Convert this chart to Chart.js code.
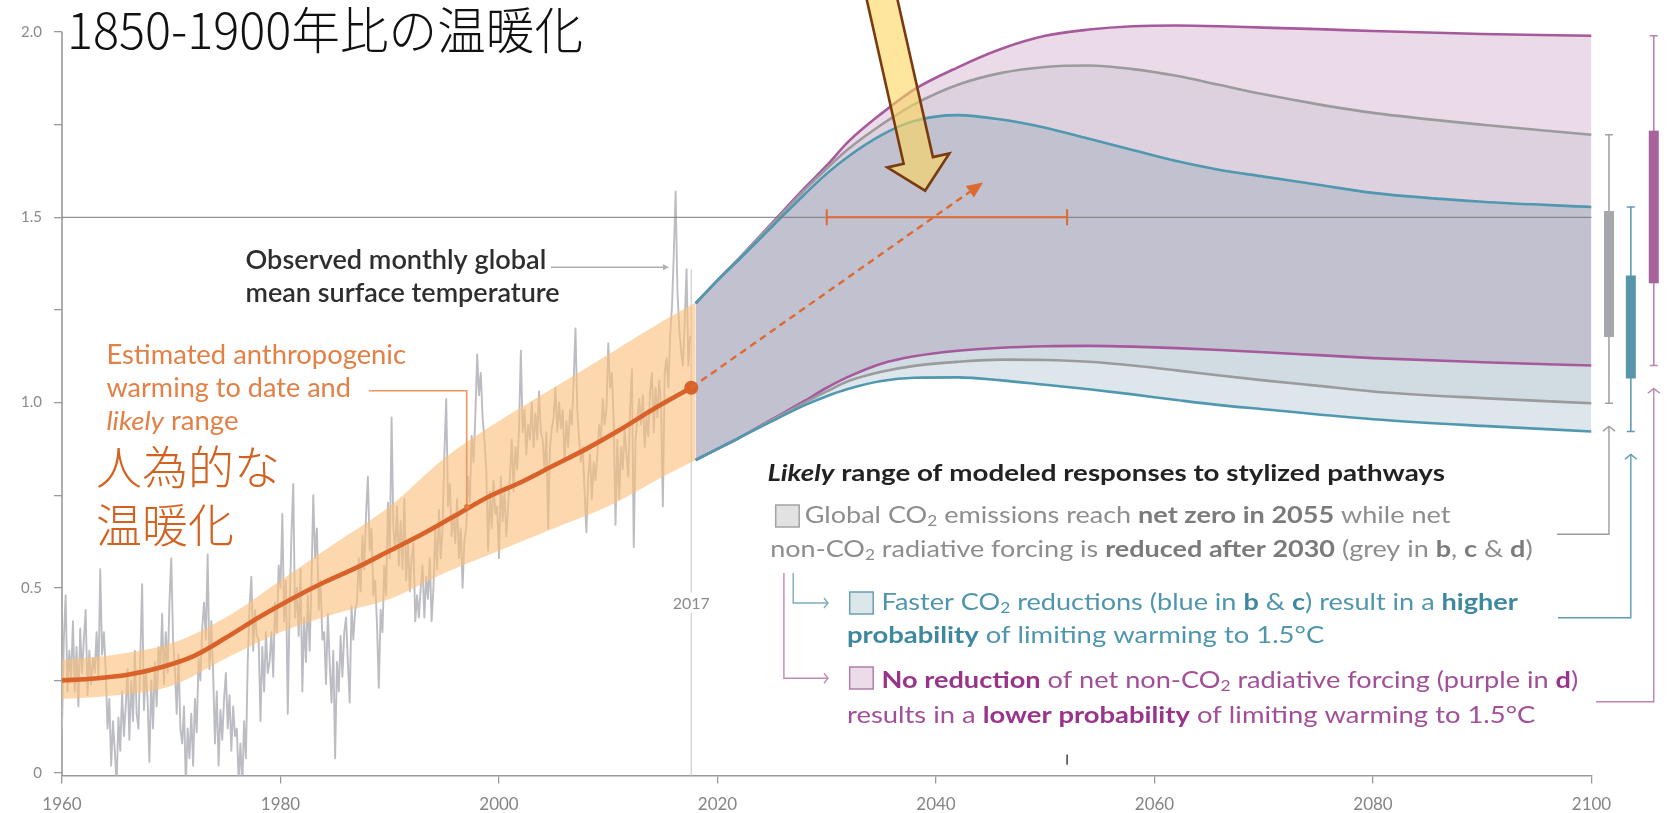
<!DOCTYPE html>
<html>
<head>
<meta charset="utf-8">
<script src="https://cdn.jsdelivr.net/npm/chart.js@4.4.1/dist/chart.umd.min.js"></script>
<style>
  html, body { margin: 0; padding: 0; background: #ffffff; }
  #wrap { width: 1667px; height: 813px; position: relative; }
  canvas { display: block; }
</style>
</head>
<body>
<div id="wrap"><canvas id="chart" width="1667" height="813"></canvas></div>
<script>
// ---------------------------------------------------------------------------
// Global warming relative to 1850-1900 (°C): observations, human-induced
// warming and likely ranges of modelled responses to stylized pathways.
// ---------------------------------------------------------------------------

// Observed global mean surface temperature, six samples per year from 1960
const observedStart = 1960;
const observedPerYear = 6;
const observed = [
  0.12, 0.36, 0.48, 0.22, 0.33, 0.25,   0.41, 0.22, 0.34, 0.18, 0.39, 0.27,   // 1960-61
  0.36, 0.44, 0.21, 0.33, 0.24, 0.31,   0.27, 0.38, 0.25, 0.55, 0.32, 0.38,   // 1962-63
  0.28, 0.12, 0.20, 0.02, 0.14, 0.06,  -0.03, 0.15, 0.06, 0.22, 0.10, 0.18,   // 1964-65
  0.28, 0.09, 0.25, 0.14, 0.33, 0.16,   0.12, 0.31, 0.51, 0.17, 0.28, 0.20,   // 1966-67
  0.03, 0.25, 0.12, 0.30, 0.18, 0.34,   0.28, 0.43, 0.24, 0.38, 0.27, 0.46,   // 1968-69
  0.58, 0.36, 0.28, 0.16, 0.32, 0.12,   0.08, 0.18, -0.03, 0.12, 0.04, 0.16,  // 1970-71
  0.02, 0.20, 0.11, 0.31, 0.25, 0.39,   0.46, 0.36, 0.59, 0.28, 0.41, 0.27,   // 1972-73
  0.08, 0.22, 0.02, 0.17, 0.09, 0.20,   0.27, 0.12, 0.21, 0.06, 0.18, 0.10,   // 1974-75
  0.12, -0.02, 0.08, -0.04, 0.14, 0.04, 0.30, 0.45, 0.53, 0.33, 0.44, 0.37,   // 1976-77
  0.36, 0.14, 0.34, 0.22, 0.38, 0.27,   0.30, 0.38, 0.26, 0.46, 0.38, 0.56,   // 1978-79
  0.50, 0.70, 0.41, 0.52, 0.16, 0.45,   0.64, 0.78, 0.42, 0.50, 0.37, 0.55,   // 1980-81
  0.22, 0.42, 0.30, 0.48, 0.33, 0.52,   0.75, 0.58, 0.66, 0.44, 0.52, 0.36,   // 1982-83
  0.38, 0.24, 0.43, 0.30, 0.19, 0.33,   0.04, 0.30, 0.22, 0.37, 0.26, 0.38,   // 1984-85
  0.42, 0.30, 0.19, 0.45, 0.36, 0.44,   0.46, 0.58, 0.49, 0.64, 0.55, 0.70,   // 1986-87
  0.80, 0.60, 0.66, 0.48, 0.52, 0.40,   0.23, 0.44, 0.38, 0.56, 0.48, 0.73,   // 1988-89
  0.58, 0.96, 0.66, 0.60, 0.72, 0.56,   0.68, 0.55, 0.74, 0.52, 0.62, 0.49,   // 1990-91
  0.58, 0.62, 0.41, 0.48, 0.42, 0.50,   0.56, 0.42, 0.53, 0.47, 0.58, 0.41,   // 1992-93
  0.50, 0.66, 0.55, 0.71, 0.58, 0.66,   0.86, 1.01, 0.72, 0.78, 0.64, 0.70,   // 1994-95
  0.62, 0.74, 0.58, 0.66, 0.50, 0.63,   0.66, 0.80, 0.73, 0.91, 0.84, 0.96,   // 1996-97
  1.13, 1.02, 1.08, 0.96, 0.90, 0.82,   0.60, 0.76, 0.66, 0.79, 0.70, 0.72,   // 1998-99
  0.58, 0.80, 0.68, 0.76, 0.64, 0.72,   0.80, 0.90, 0.76, 0.88, 0.82, 0.93,   // 2000-01
  1.14, 0.92, 0.98, 0.86, 0.94, 0.90,   1.00, 0.88, 0.97, 0.90, 1.03, 0.92,   // 2002-03
  0.90, 0.82, 0.92, 0.66, 0.88, 0.93,   0.96, 1.04, 0.92, 1.00, 0.93, 0.98,   // 2004-05
  0.84, 0.95, 0.88, 0.98, 0.94, 1.06,   1.20, 0.98, 0.90, 0.84, 0.88, 0.76,   // 2006-07
  0.65, 0.80, 0.86, 0.74, 0.84, 0.79,   0.86, 0.94, 0.90, 1.01, 0.94, 0.98,   // 2008-09
  1.16, 1.04, 1.08, 0.95, 0.67, 0.90,   0.74, 0.88, 0.82, 0.93, 0.86, 0.80,   // 2010-11
  0.98, 1.09, 0.61, 0.90, 0.96, 1.01,   0.94, 1.02, 0.88, 0.96, 0.91, 1.03,   // 2012-13
  1.08, 0.92, 1.04, 0.96, 1.06, 0.99,   0.72, 1.08, 1.12, 1.04, 1.18, 1.26,   // 2014-15
  1.40, 1.57, 1.30, 1.20, 1.14, 1.10,   1.22, 1.36, 1.10, 1.18                // 2016-17
];

// Estimated anthropogenic warming to date (central line)
const trendYears  = [1960, 1963, 1966, 1969, 1972, 1975, 1978, 1981, 1984, 1987,
                     1990, 1993, 1996, 1999, 2002, 2005, 2008, 2011, 2014, 2017.6];
const trendValues = [0.25, 0.255, 0.265, 0.285, 0.315, 0.365, 0.42, 0.47, 0.515, 0.555,
                     0.60, 0.645, 0.695, 0.745, 0.785, 0.83, 0.875, 0.925, 0.98, 1.04];

// Likely range of anthropogenic warming to date
const rangeYears = [1960, 1965, 1970, 1975, 1980, 1985, 1990, 1995, 2000, 2005, 2010, 2015, 2018];
const rangeUpper = [0.305, 0.32, 0.35, 0.42, 0.52, 0.62, 0.72, 0.85, 0.95, 1.04, 1.13, 1.22, 1.27];
const rangeLower = [0.20, 0.21, 0.235, 0.31, 0.38, 0.43, 0.47, 0.54, 0.60, 0.66, 0.72, 0.80, 0.845];

// Likely ranges of modelled responses to the stylized pathways
const pathwayYears = [2018, 2020, 2022, 2025, 2028, 2030, 2032, 2035, 2038, 2042, 2046,
                      2050, 2054, 2058, 2062, 2066, 2070, 2075, 2080, 2090, 2100];
const purpleHigh = [1.268, 1.33, 1.39, 1.485, 1.58, 1.64, 1.705, 1.78, 1.845, 1.905, 1.955,
                    1.99, 2.007, 2.016, 2.018, 2.016, 2.012, 2.008, 2.003, 1.995, 1.99];
const purpleLow  = [0.845, 0.875, 0.905, 0.955, 1.005, 1.04, 1.07, 1.105, 1.125, 1.14, 1.148,
                    1.152, 1.153, 1.151, 1.147, 1.142, 1.136, 1.128, 1.12, 1.109, 1.10];
const greyHigh   = [1.268, 1.33, 1.39, 1.482, 1.575, 1.632, 1.685, 1.75, 1.805, 1.858, 1.89,
                    1.906, 1.91, 1.90, 1.882, 1.857, 1.832, 1.805, 1.782, 1.75, 1.723];
const greyLow    = [0.845, 0.875, 0.905, 0.953, 1.0, 1.03, 1.058, 1.083, 1.099, 1.11, 1.116,
                    1.115, 1.11, 1.10, 1.087, 1.073, 1.06, 1.045, 1.03, 1.012, 0.998];
const blueHigh   = [1.268, 1.33, 1.387, 1.475, 1.563, 1.618, 1.665, 1.722, 1.76, 1.776, 1.764,
                    1.742, 1.712, 1.682, 1.652, 1.628, 1.61, 1.588, 1.566, 1.542, 1.528];
const blueLow    = [0.845, 0.875, 0.905, 0.95, 0.993, 1.017, 1.037, 1.058, 1.067, 1.068, 1.06,
                    1.048, 1.036, 1.022, 1.007, 0.993, 0.982, 0.968, 0.955, 0.937, 0.922];

// 2100 ranges shown beside the panel (grey, blue, purple); boxes are the central spans
const boxYears = [2101.6, 2103.6, 2105.7];
const boxLow   = [1.177, 1.065, 1.322];
const boxHigh  = [1.517, 1.343, 1.734];
const whiskerLow  = [greyLow.at(-1), blueLow.at(-1), purpleLow.at(-1)];
const whiskerHigh = [greyHigh.at(-1), blueHigh.at(-1), purpleHigh.at(-1)];

// Timing of reaching 1.5°C and the projected continuation of current warming
const crossingLevel = 1.5;
const crossingYears = [2030, 2052];
const projectionFrom = [2017.6, 1.04];
const projectionTo   = [2044.3, 1.594];
const presentYear = 2017.6;
const presentLabel = '2017';

// Axes
const xTickValues = [1960, 1980, 2000, 2020, 2040, 2060, 2080, 2100];
const yTickValues = [0, 0.25, 0.5, 0.75, 1.0, 1.25, 1.5, 1.75, 2.0];
const yTickLabels = {0: '0', 0.5: '0.5', 1: '1.0', 1.5: '1.5', 2: '2.0'};
const yAxisTop = 2.0;

// Callout arrow tip (year, °C)
const calloutTip = [2039.0, 1.572];

// ---------------------------------------------------------------------------
const pts = (xs, ys) => ys.map((v, i) => ({x: xs[i], y: v}));
const observedPts = observed.map((v, i) => ({x: observedStart + i / observedPerYear, y: v}));

const SANS = "Lato, 'Noto Sans', sans-serif";
const CJK = "'Noto Sans CJK JP', sans-serif";

const line = (data, color, order) => ({
  data, borderColor: color, borderWidth: 2.6, pointRadius: 0, fill: false,
  cubicInterpolationMode: 'monotone', order
});

const datasets = [
  /* 0 */ {data: observedPts, borderColor: '#bcbdc3', borderWidth: 1.9, pointRadius: 0,
           tension: 0, fill: false, order: 40, borderJoinStyle: 'round'},
  /* 1 */ {data: pts(rangeYears, rangeUpper), borderWidth: 0, pointRadius: 0,
           cubicInterpolationMode: 'monotone', fill: {target: 2},
           backgroundColor: 'rgba(252,190,122,0.6)', order: 39},
  /* 2 */ {data: pts(rangeYears, rangeLower), borderWidth: 0, pointRadius: 0,
           cubicInterpolationMode: 'monotone', fill: false, order: 38},
  /* 3 */ {data: pts(pathwayYears, purpleHigh), borderWidth: 0, pointRadius: 0,
           cubicInterpolationMode: 'monotone', fill: {target: 6},
           backgroundColor: 'rgba(160,80,140,0.21)', order: 30},
  /* 4 */ {data: pts(pathwayYears, greyHigh), borderWidth: 0, pointRadius: 0,
           cubicInterpolationMode: 'monotone', fill: {target: 7},
           backgroundColor: 'rgba(140,158,162,0.13)', order: 29},
  /* 5 */ {data: pts(pathwayYears, blueHigh), borderWidth: 0, pointRadius: 0,
           cubicInterpolationMode: 'monotone', fill: {target: 8},
           backgroundColor: 'rgba(80,130,155,0.2)', order: 28},
  /* 6 */ line(pts(pathwayYears, purpleLow), '#a65a9c', 20),
  /* 7 */ line(pts(pathwayYears, greyLow), '#9b9b9f', 19),
  /* 8 */ line(pts(pathwayYears, blueLow), '#4f98b0', 18),
  /* 9 */ line(pts(pathwayYears, purpleHigh), '#a65a9c', 17),
  /*10 */ line(pts(pathwayYears, greyHigh), '#9b9b9f', 16),
  /*11 */ line(pts(pathwayYears, blueHigh), '#4f98b0', 15),
  /*12 */ {data: pts(trendYears, trendValues), borderColor: '#d9622b', borderWidth: 4.6,
           cubicInterpolationMode: 'monotone', fill: false, order: 1,
           pointRadius: c => (c.dataIndex === trendValues.length - 1 ? 7 : 0),
           pointBackgroundColor: '#d9622b', pointBorderWidth: 0}
];

// Rich text: segments [text, flags] with b = bold, i = italic, s = subscript,
// squeezed horizontally to the given width.
function richText(ctx, segs, x, base, size, width, colors, weight) {
  const parts = segs.map(([t, f = '']) => {
    const sz = f.includes('s') ? size * 0.64 : size;
    const w = f.includes('b') ? 'bold ' : (weight ? weight + ' ' : '');
    const font = `${f.includes('i') ? 'italic ' : ''}${w}${sz}px ${SANS}`;
    ctx.font = font;
    return {t, f, font, w: ctx.measureText(t).width};
  });
  const total = parts.reduce((a, p) => a + p.w, 0);
  const sx = width ? width / total : 1;
  ctx.save();
  ctx.translate(x, base);
  ctx.scale(sx, 1);
  ctx.textBaseline = 'alphabetic';
  ctx.textAlign = 'left';
  let cx = 0;
  for (const p of parts) {
    ctx.font = p.font;
    ctx.fillStyle = p.f.includes('b') ? colors.b : colors.n;
    ctx.fillText(p.t, cx, p.f.includes('s') ? size * 0.13 : 0);
    cx += p.w;
  }
  ctx.restore();
}

function arrowHead(ctx, x, y, angle, len, half, fill) {
  ctx.save();
  ctx.translate(x, y);
  ctx.rotate(angle);
  ctx.beginPath();
  ctx.moveTo(0, 0);
  ctx.lineTo(-len, -half);
  ctx.lineTo(-len, half);
  ctx.closePath();
  ctx.fillStyle = fill;
  ctx.fill();
  ctx.restore();
}

function openHead(ctx, x, y, dir, size) {
  ctx.beginPath();
  if (dir === 'up') {
    ctx.moveTo(x - size, y + size * 0.8); ctx.lineTo(x, y); ctx.lineTo(x + size, y + size * 0.8);
  } else {
    ctx.moveTo(x - size * 0.8, y - size); ctx.lineTo(x, y); ctx.lineTo(x - size * 0.8, y + size);
  }
  ctx.stroke();
}

const decor = {
  id: 'decor',
  beforeDatasetsDraw(chart) {
    const {ctx, chartArea, scales: {x, y}} = chart;
    ctx.save();
    // y axis line, from the bottom of the panel up to 2.0
    ctx.strokeStyle = '#9a9a9a';
    ctx.lineWidth = 1.6;
    ctx.beginPath();
    ctx.moveTo(chartArea.left, chartArea.bottom);
    ctx.lineTo(chartArea.left, y.getPixelForValue(yAxisTop));
    ctx.stroke();

    // present-day marker
    const px = x.getPixelForValue(presentYear);
    ctx.strokeStyle = '#d2d2d2';
    ctx.lineWidth = 1.3;
    ctx.beginPath();
    ctx.moveTo(px, chartArea.bottom);
    ctx.lineTo(px, y.getPixelForValue(1.36));
    ctx.stroke();
    ctx.font = `16px ${SANS}`;
    ctx.textAlign = 'center';
    ctx.textBaseline = 'middle';
    const ly = y.getPixelForValue(0.46);
    const tw = ctx.measureText(presentLabel).width;
    ctx.fillStyle = '#ffffff';
    ctx.fillRect(px - tw / 2 - 4, ly - 10, tw + 8, 20);
    ctx.fillStyle = '#8a8a8a';
    ctx.fillText(presentLabel, px, ly + 1);
    ctx.restore();
  },
  afterDatasetsDraw(chart) {
    const {ctx, chartArea, scales: {x, y}} = chart;
    ctx.save();

    // 1.5 °C reference line
    const y15 = y.getPixelForValue(crossingLevel);
    ctx.strokeStyle = 'rgba(120,120,126,0.8)';
    ctx.lineWidth = 1.4;
    ctx.beginPath();
    ctx.moveTo(chartArea.left, y15);
    ctx.lineTo(chartArea.right, y15);
    ctx.stroke();

    // range of years when 1.5 °C is reached
    const xa = x.getPixelForValue(crossingYears[0]);
    const xb = x.getPixelForValue(crossingYears[1]);
    ctx.strokeStyle = '#dc6a31';
    ctx.lineWidth = 2;
    ctx.beginPath();
    ctx.moveTo(xa, y15); ctx.lineTo(xb, y15);
    ctx.moveTo(xa, y15 - 8); ctx.lineTo(xa, y15 + 8);
    ctx.moveTo(xb, y15 - 8); ctx.lineTo(xb, y15 + 8);
    ctx.stroke();

    // continuation of the current warming rate
    const x0 = x.getPixelForValue(projectionFrom[0]), y0 = y.getPixelForValue(projectionFrom[1]);
    const x1 = x.getPixelForValue(projectionTo[0]), y1 = y.getPixelForValue(projectionTo[1]);
    const ang = Math.atan2(y1 - y0, x1 - x0);
    ctx.setLineDash([7, 5]);
    ctx.lineWidth = 2.4;
    ctx.beginPath();
    ctx.moveTo(x0, y0);
    ctx.lineTo(x1 - Math.cos(ang) * 12, y1 - Math.sin(ang) * 12);
    ctx.stroke();
    ctx.setLineDash([]);
    arrowHead(ctx, x1, y1, ang, 16, 7, '#dc6a31');

    // small tick above the axis at the end of the 1.5 °C range
    ctx.strokeStyle = '#333333';
    ctx.lineWidth = 1.4;
    ctx.beginPath();
    ctx.moveTo(xb, y.getPixelForValue(0.05));
    ctx.lineTo(xb, y.getPixelForValue(0.022));
    ctx.stroke();

    // 2100 ranges beside the panel
    const wStyle = [
      {line: '#a3a3a6', box: '#a6a7ab', link: '#9c9c9c'},
      {line: '#5d9db3', box: '#5894aa', link: '#5d9db3'},
      {line: '#bb82b1', box: '#a8639c', link: '#bd83b1'}
    ];
    const linkY = [534.3, 617.7, 701.7];
    const linkX = [1557, 1558, 1596];
    boxYears.forEach((yr, i) => {
      const px = x.getPixelForValue(yr);
      const yHi = y.getPixelForValue(whiskerHigh[i]);
      const yLo = y.getPixelForValue(whiskerLow[i]);
      ctx.strokeStyle = wStyle[i].line;
      ctx.lineWidth = 1.6;
      ctx.beginPath();
      ctx.moveTo(px, yHi); ctx.lineTo(px, yLo);
      ctx.moveTo(px - 4, yHi); ctx.lineTo(px + 4, yHi);
      ctx.moveTo(px - 4, yLo); ctx.lineTo(px + 4, yLo);
      ctx.stroke();
      const bTop = y.getPixelForValue(boxHigh[i]);
      const bBot = y.getPixelForValue(boxLow[i]);
      ctx.fillStyle = wStyle[i].box;
      ctx.fillRect(px - 5, bTop, 10, bBot - bTop);
      // link from the legend entry up to the range
      const tip = yLo + 23;
      ctx.strokeStyle = wStyle[i].link;
      ctx.lineWidth = 1.4;
      ctx.beginPath();
      ctx.moveTo(linkX[i], linkY[i]);
      ctx.lineTo(px, linkY[i]);
      ctx.lineTo(px, tip);
      ctx.stroke();
      openHead(ctx, px, tip, 'up', 6);
    });
    ctx.restore();
  },
  afterDraw(chart) {
    const {ctx, scales: {x, y}} = chart;
    ctx.save();

    // heading
    ctx.font = `300 50px ${CJK}`;
    ctx.textBaseline = 'alphabetic';
    const head = '1850-1900年比の温暖化';
    const hw = ctx.measureText(head).width;
    ctx.save();
    ctx.translate(67, 49);
    ctx.scale(516 / hw, 1);
    ctx.fillStyle = '#111111';
    ctx.fillText(head, 0, 0);
    ctx.restore();

    // observed temperature label
    const dark = {n: '#2e2e2e', b: '#2e2e2e'};
    richText(ctx, [['Observed monthly global']], 245.5, 269.3, 26, 300.8, dark, '600');
    richText(ctx, [['mean surface temperature']], 245.5, 301.7, 26, 314.2, dark, '600');
    ctx.strokeStyle = '#b0b0b0';
    ctx.lineWidth = 1.5;
    ctx.beginPath(); ctx.moveTo(551, 267.3); ctx.lineTo(664, 267.3); ctx.stroke();
    arrowHead(ctx, 669, 267.3, 0, 6, 3, '#b0b0b0');

    // anthropogenic warming label
    const orange = {n: '#e47f45', b: '#e47f45'};
    richText(ctx, [['Estimated anthropogenic']], 106.4, 364, 26, 299.6, orange);
    richText(ctx, [['warming to date and']], 106.4, 396.7, 26, 244.5, orange);
    richText(ctx, [['likely', 'i'], [' range']], 106.4, 430, 26, 132.1, orange);
    ctx.strokeStyle = '#eb9762';
    ctx.lineWidth = 1.6;
    ctx.beginPath();
    ctx.moveTo(369, 390.7); ctx.lineTo(466.7, 390.7); ctx.lineTo(466.7, 505);
    ctx.stroke();
    ctx.fillStyle = '#e07a3f';
    ctx.beginPath(); ctx.arc(466.7, 506.7, 2.6, 0, Math.PI * 2); ctx.fill();

    ctx.font = `300 46px ${CJK}`;
    ctx.fillStyle = '#d3611f';
    ctx.textAlign = 'left';
    ctx.fillText('人為的な', 96, 484);
    ctx.fillText('温暖化', 96, 542);

    // pathway legend
    const head2 = {n: '#222222', b: '#222222'};
    richText(ctx, [['Likely', 'bi'], [' range of modeled responses to stylized pathways', 'b']],
             767.4, 480.7, 23, 677.5, head2);
    const grey = {n: '#8d8d8d', b: '#7b7b7b'};
    const blue = {n: '#4f96ad', b: '#3d879f'};
    const purple = {n: '#a24f98', b: '#98358b'};
    richText(ctx, [['Global CO'], ['2', 's'], [' emissions reach '], ['net zero in 2055', 'b'], [' while net']],
             804.7, 522.7, 23, 645.7, grey);
    richText(ctx, [['non-CO'], ['2', 's'], [' radiative forcing is '], ['reduced after 2030', 'b'],
                   [' (grey in '], ['b', 'b'], [', '], ['c', 'b'], [' & '], ['d', 'b'], [')']],
             770.2, 556.7, 23, 762.4, grey);
    richText(ctx, [['Faster CO'], ['2', 's'], [' reductions (blue in '], ['b', 'b'], [' & '], ['c', 'b'],
                   [') result in a '], ['higher', 'b']],
             881.5, 610, 23, 636.3, blue);
    richText(ctx, [['probability', 'b'], [' of limiting warming to 1.5°C']],
             847, 643.3, 23, 477.2, blue);
    richText(ctx, [['No reduction', 'b'], [' of net non-CO'], ['2', 's'], [' radiative forcing (purple in '],
                   ['d', 'b'], [')']],
             881.5, 688.3, 23, 696.7, purple);
    richText(ctx, [['results in a '], ['lower probability', 'b'], [' of limiting warming to 1.5°C']],
             847, 722.7, 23, 688.4, purple);

    // legend swatches
    const swatch = (x0, y0, fill, stroke) => {
      ctx.fillStyle = fill; ctx.fillRect(x0, y0, 23.5, 22);
      ctx.strokeStyle = stroke; ctx.lineWidth = 1.5; ctx.strokeRect(x0, y0, 23.5, 22);
    };
    swatch(775.7, 505, '#e2e2e2', '#a3a3a3');
    swatch(849.7, 592, '#dce7eb', '#6a9fb2');
    swatch(849.7, 667, '#ecdbe8', '#b27fa9');

    // legend links
    ctx.lineWidth = 1.4;
    ctx.strokeStyle = '#7fabbc';
    ctx.beginPath(); ctx.moveTo(793.2, 573); ctx.lineTo(793.2, 603); ctx.lineTo(828, 603); ctx.stroke();
    openHead(ctx, 828, 603, 'right', 5);
    ctx.strokeStyle = '#c08bb5';
    ctx.beginPath(); ctx.moveTo(783.9, 573); ctx.lineTo(783.9, 678.3); ctx.lineTo(828, 678.3); ctx.stroke();
    openHead(ctx, 828, 678.3, 'right', 5);

    // callout arrow
    const tx = x.getPixelForValue(calloutTip[0]);
    const ty = y.getPixelForValue(calloutTip[1]);
    const dx = 0.2194, dy = 0.9756;      // pointing direction
    const nx = 0.9756, ny = -0.2194;     // across the arrow
    const headLen = 31, headHalf = 31.8, shaftHalf = 15, shaftLen = 240;
    const bx = tx - dx * headLen, by = ty - dy * headLen;
    const ex = bx - dx * shaftLen, ey = by - dy * shaftLen;
    ctx.beginPath();
    ctx.moveTo(tx, ty);
    ctx.lineTo(bx + nx * headHalf, by + ny * headHalf);
    ctx.lineTo(bx + nx * shaftHalf, by + ny * shaftHalf);
    ctx.lineTo(ex + nx * shaftHalf, ey + ny * shaftHalf);
    ctx.lineTo(ex - nx * shaftHalf, ey - ny * shaftHalf);
    ctx.lineTo(bx - nx * shaftHalf, by - ny * shaftHalf);
    ctx.lineTo(bx - nx * headHalf, by - ny * headHalf);
    ctx.closePath();
    ctx.fillStyle = 'rgba(253,215,90,0.6)';
    ctx.fill();
    ctx.strokeStyle = '#7a3a10';
    ctx.lineWidth = 2.6;
    ctx.lineJoin = 'miter';
    ctx.stroke();

    ctx.restore();
  }
};

new Chart(document.getElementById('chart'), {
  type: 'line',
  data: {datasets},
  plugins: [decor],
  options: {
    responsive: false,
    animation: false,
    devicePixelRatio: 1,
    events: [],
    layout: {padding: {top: 18.65, right: 75.5, left: 0, bottom: 0}},
    plugins: {legend: {display: false}, tooltip: {enabled: false}, title: {display: false}},
    scales: {
      x: {
        type: 'linear', min: 1960, max: 2100,
        afterBuildTicks: s => { s.ticks = xTickValues.map(v => ({value: v})); },
        afterFit: s => { s.height = 37.5; },
        grid: {drawOnChartArea: false, drawTicks: true, tickLength: 8, color: '#9a9a9a', lineWidth: 1.3},
        border: {display: true, color: '#9a9a9a', width: 1.6},
        ticks: {padding: 11, color: '#858585', font: {family: SANS, size: 17},
                maxRotation: 0, autoSkip: false, callback: v => String(v)}
      },
      y: {
        type: 'linear', min: -0.0067, max: 2.03,
        afterBuildTicks: s => { s.ticks = yTickValues.map(v => ({value: v})); },
        afterFit: s => { s.width = 62; },
        grid: {drawOnChartArea: false, drawTicks: true, tickLength: 8, color: '#9a9a9a', lineWidth: 1.3},
        border: {display: false},
        ticks: {padding: 12, color: '#8a8a8a', font: {family: SANS, size: 15},
                autoSkip: false, callback: v => (yTickLabels[v] !== undefined ? yTickLabels[v] : '')}
      }
    }
  }
});
</script>
</body>
</html>
